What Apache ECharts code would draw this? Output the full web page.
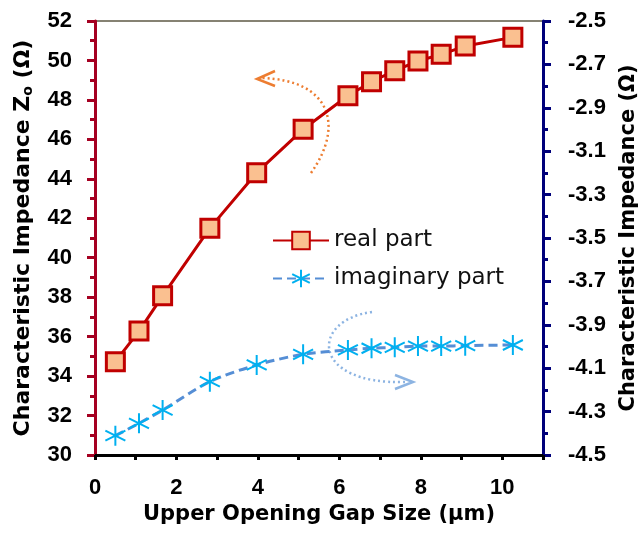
<!DOCTYPE html>
<html><head><meta charset="utf-8">
<script src="https://cdn.jsdelivr.net/npm/echarts@6/dist/echarts.min.js"></script>
<style>html,body{margin:0;padding:0;background:#fff}#c{width:640px;height:533px}</style>
</head><body><div id="c"></div>
<script>
const gapSize = [0.5, 1.08, 1.66, 2.82, 3.97, 5.11, 6.21, 6.79, 7.36, 7.93, 8.5, 9.09, 10.26];
const realPart = [34.73, 36.28, 38.07, 41.5, 44.31, 46.51, 48.21, 48.92, 49.48, 49.97, 50.31, 50.73, 51.17];
const imagPart = [-4.411, -4.354, -4.293, -4.162, -4.085, -4.036, -4.016, -4.008, -4.004, -3.998, -3.998, -3.996, -3.993];
const seriesNames = ['real part', 'imaginary part'];
const xTitle = 'Upper Opening Gap Size (µm)';
const leftTitle = 'Characteristic Impedance Z';
const rightTitle = 'Characteristic Impedance (Ω)';

const FONT = '"Liberation Sans", Arial, sans-serif';
const WIDE = '"DejaVu Sans", sans-serif';
const star = 'path://M10,0L10,20M1,5L19,15M1,15L19,5';
const chart = echarts.init(document.getElementById('c'), null, {renderer: 'canvas'});
chart.setOption({
  animation: false,
  backgroundColor: '#fff',
  grid: {left: 95, right: 97, top: 21, bottom: 78, outerBoundsMode: 'none', containLabel: false,
    show: true, borderColor: '#5f5a45', borderWidth: 1.5, backgroundColor: 'transparent'},
  legend: {
    orient: 'vertical', left: 267, top: 224, itemWidth: 56, itemHeight: 22, itemGap: 15,
    textStyle: {fontFamily: WIDE, fontSize: 23, color: '#111'},
    data: seriesNames
  },
  xAxis: {
    type: 'value', min: 0, max: 11, interval: 1,
    axisLine: {lineStyle: {color: '#000', width: 3}},
    axisTick: {length: 5, lineStyle: {color: '#000', width: 3}},
    splitLine: {show: false},
    axisLabel: {margin: 22, fontFamily: FONT, fontWeight: 'bold', fontSize: 22, color: '#000',
      formatter: v => (v % 2 === 0 && v <= 10) ? String(v) : ''},
    name: xTitle, nameLocation: 'middle', nameGap: 31,
    nameTextStyle: {fontFamily: WIDE, fontWeight: 'bold', fontSize: 21, color: '#000'}
  },
  yAxis: [{
    type: 'value', min: 30, max: 52, interval: 2, position: 'left',
    axisLine: {show: true, lineStyle: {color: '#A50021', width: 3}},
    axisTick: {length: 8, lineStyle: {color: '#A50021', width: 3}},
    minorTick: {show: true, splitNumber: 2, length: 5, lineStyle: {color: '#A50021', width: 3}},
    splitLine: {show: false},
    axisLabel: {margin: 23, fontFamily: FONT, fontWeight: 'bold', fontSize: 22, color: '#000'},
    name: '{a|' + leftTitle + '}{s|o}{a| (Ω)}', nameLocation: 'middle', nameGap: 60, nameRotate: 90,
    nameTextStyle: {rich: {
      a: {fontFamily: WIDE, fontWeight: 'bold', fontSize: 22, color: '#000'},
      s: {fontFamily: WIDE, fontWeight: 'bold', fontSize: 14, color: '#000', verticalAlign: 'bottom', padding: [10, 0, 0, 0]}
    }}
  }, {
    type: 'value', min: -4.5, max: -2.5, interval: 0.2, position: 'right',
    axisLine: {show: true, lineStyle: {color: '#00007A', width: 3}},
    axisTick: {length: 8, lineStyle: {color: '#00007A', width: 3}},
    minorTick: {show: true, splitNumber: 2, length: 5, lineStyle: {color: '#00007A', width: 3}},
    splitLine: {show: false},
    axisLabel: {margin: 25, fontFamily: FONT, fontWeight: 'bold', fontSize: 22, color: '#000',
      formatter: v => v.toFixed(1)},
    name: rightTitle, nameLocation: 'middle', nameGap: 75, nameRotate: 90,
    nameTextStyle: {fontFamily: WIDE, fontWeight: 'bold', fontSize: 21, color: '#000'}
  }],
  series: [{
    name: seriesNames[0], type: 'line', yAxisIndex: 0,
    data: gapSize.map((x, i) => [x, realPart[i]]),
    symbol: 'rect', symbolSize: 18,
    lineStyle: {color: '#C00000', width: 3},
    itemStyle: {color: '#FAC090', borderColor: '#C00000', borderWidth: 3},
    z: 3
  }, {
    name: seriesNames[1], type: 'line', yAxisIndex: 1, smooth: 0.3,
    data: gapSize.map((x, i) => [x, imagPart[i]]),
    symbol: star, symbolSize: 20,
    lineStyle: {color: '#558ED5', width: 3, type: [9, 5]},
    itemStyle: {color: 'rgba(0,0,0,0)', borderColor: '#00B0F0', borderWidth: 2},
    z: 2
  }],
  graphic: [
    {type: 'bezierCurve', shape: {x1: 311, y1: 173, x2: 262, y2: 78, cpx1: 345, cpy1: 125, cpx2: 330, cpy2: 80},
     style: {stroke: '#ED7D31', lineWidth: 2.5, lineDash: [2, 3], fill: null}, z: 1},
    {type: 'polyline', shape: {points: [[275, 71], [257, 79], [275, 86]]},
     style: {stroke: '#ED7D31', lineWidth: 2.5, fill: null}, z: 1},
    {type: 'bezierCurve', shape: {x1: 372, y1: 312, x2: 405, y2: 382, cpx1: 310, cpy1: 320, cpx2: 310, cpy2: 385},
     style: {stroke: '#8DB4E2', lineWidth: 2.5, lineDash: [2, 3], fill: null}, z: 1},
    {type: 'polyline', shape: {points: [[395, 375], [413, 382], [395, 389]]},
     style: {stroke: '#8DB4E2', lineWidth: 2.5, fill: null}, z: 1}
  ]
});
</script></body></html>
